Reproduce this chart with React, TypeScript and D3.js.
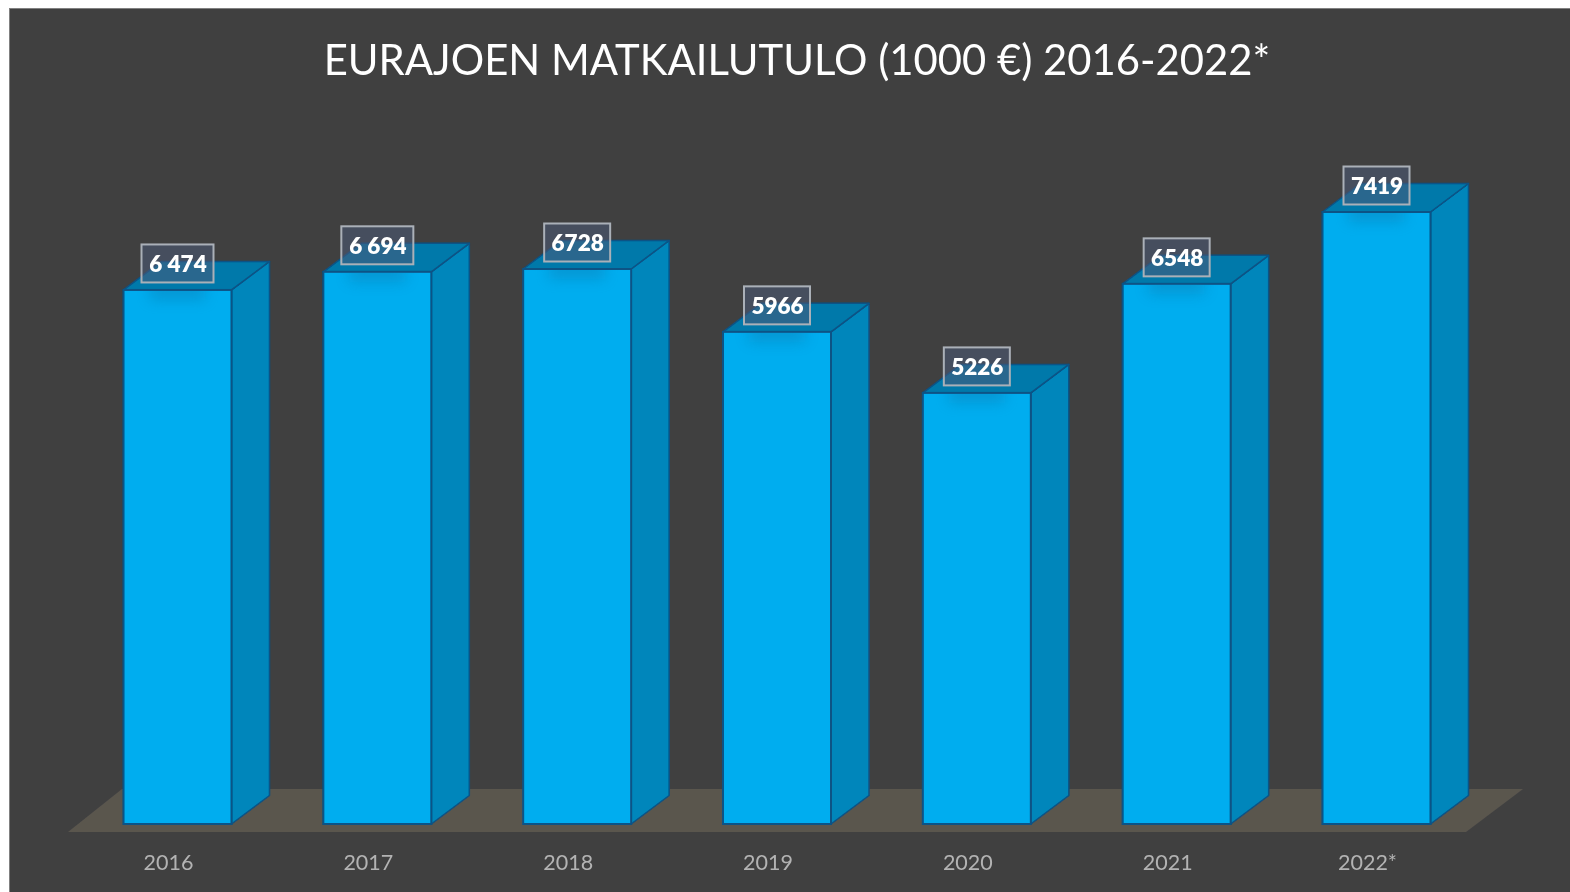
import React from "react";
import * as d3 from "d3";

const categories = ["2016", "2017", "2018", "2019", "2020", "2021", "2022*"];
const values = [6474, 6694, 6728, 5966, 5226, 6548, 7419];
const valueLabels = ["6 474", "6 694", "6728", "5966", "5226", "6548", "7419"];
const titleText = "EURAJOEN MATKAILUTULO (1000 €) 2016-2022*";

const W = 1570, H = 892;
const baseY = 824;
const depthX = 38, depthY = 28.5;
const barW = 108;

const x = d3.scaleLinear().domain([0, 6]).range([123.5, 1322.5]);
const y = d3.scaleLinear().domain([0, 7419]).range([baseY, 212]);
const poly = d3.line<[number, number]>();

export default function App() {
  return (
    <svg width={W} height={H} viewBox={`0 0 ${W} ${H}`}
      style={{ position: "absolute", left: 0, top: 0, display: "block" }}>
      <defs>
        <filter id="soft" x="-20%" y="-20%" width="140%" height="140%"><feGaussianBlur stdDeviation="0.6" /></filter>
        <filter id="shadow" x="-50%" y="-100%" width="200%" height="300%"><feGaussianBlur stdDeviation="7" /></filter>
        <filter id="textSoft"><feGaussianBlur stdDeviation="0.4" /></filter>
      </defs>
      <rect x={0} y={0} width={W} height={H} fill="#ffffff" />
      <rect x={9.5} y={8.5} width={W} height={H} fill="#404040" stroke="#808080" strokeWidth={1} />

      <text x={797} y={75} textAnchor="middle" fontFamily="Lato, 'Open Sans', sans-serif" fontSize={41.8}
        fill="#ffffff" filter="url(#textSoft)">{titleText}</text>

      <path d={poly([[122, 789], [1523, 789], [1466, 832], [68, 832]]) + "Z"} fill="#5a564e" filter="url(#soft)" />

      {values.map((v, i) => {
        const x0 = x(i), x1 = x0 + barW, top = y(v);
        const topFace: [number, number][] = [[x0, top], [x1, top], [x1 + depthX, top - depthY], [x0 + depthX, top - depthY]];
        const sideFace: [number, number][] = [[x1, top], [x1 + depthX, top - depthY], [x1 + depthX, baseY - depthY], [x1, baseY]];
        return (
          <g key={categories[i]} filter="url(#soft)">
            <path d={poly(sideFace) + "Z"} fill="#0086bb" stroke="#0a5285" strokeWidth={1.5} strokeLinejoin="round" />
            <path d={poly(topFace) + "Z"} fill="#0079aa" stroke="#0a5285" strokeWidth={1.5} strokeLinejoin="round" />
            <rect x={x0} y={top} width={barW} height={baseY - top} fill="#00adef" stroke="#0a5285" strokeWidth={2} />
          </g>
        );
      })}

      {values.map((v, i) => {
        const x0 = x(i), top = y(v);
        const cx = x0 + 54;
        return (
          <g key={"shadow" + categories[i]}>
            <clipPath id={`clip${i}`}>
              <path d={poly([[x0 + 1, top + 1], [x0 + barW - 1, top + 1], [x0 + barW - 1, top + 30], [x0 + 1, top + 30]]) + "Z"} />
            </clipPath>
            <g clipPath={`url(#clip${i})`}>
              <rect x={cx - 28} y={top - 8} width={56} height={18} fill="#0a6ea0" opacity={0.35} filter="url(#shadow)" />
            </g>
          </g>
        );
      })}

      {values.map((v, i) => {
        const cx = x(i) + 54;
        const cy = y(v) - 26.5;
        const label = valueLabels[i];
        const w = label.includes(" ") ? 72 : 66;
        return (
          <g key={"label" + categories[i]} filter="url(#textSoft)">
            <rect x={cx - w / 2} y={cy - 19} width={w} height={38} fill="#4a5a76" fillOpacity={0.55}
              stroke="#aab0b8" strokeWidth={2} />
            <text x={cx + 0.5} y={cy + 8.5} textAnchor="middle" fontFamily="Lato, 'Open Sans', sans-serif"
              fontWeight={800} fontSize={22.5} fill="#ffffff">{label}</text>
          </g>
        );
      })}

      {categories.map((c, i) => (
        <text key={"cat" + c} x={x(i) + 45} y={870} textAnchor="middle"
          fontFamily="Lato, 'Open Sans', sans-serif" fontSize={21.5} fill="#b3b3b3" filter="url(#textSoft)">{c}</text>
      ))}
    </svg>
  );
}
